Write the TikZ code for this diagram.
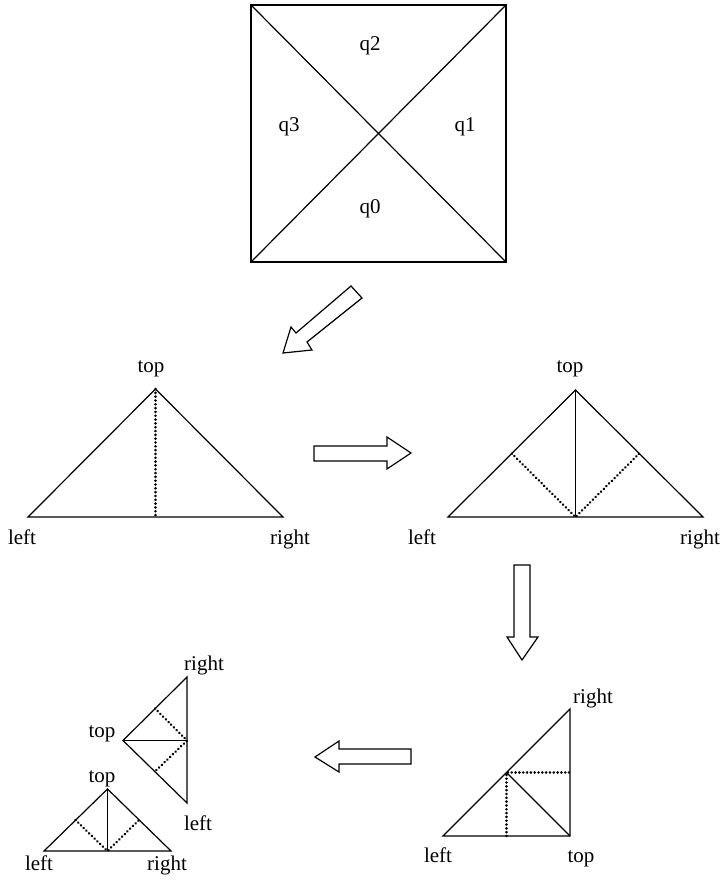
\documentclass[tikz,border=0pt]{standalone}
\usepackage{fontspec}
\setmainfont{Liberation Serif}
\usetikzlibrary{calc}
\begin{document}
\begin{tikzpicture}[x=0.5pt,y=-0.5pt,
  edge/.style={line width=0.6pt},
  dots/.style={line width=1.4pt,line cap=round,dash pattern=on 0.01pt off 1.9pt},
  blockarrow/.style={draw,line width=0.6pt,fill=white,line join=miter},
  lbl/.style={anchor=base,inner sep=0pt,font=\fontsize{10.5}{12}\selectfont}]
\useasboundingbox (0,0) rectangle (725,885);
% square
\coordinate (sa) at (251,5); \coordinate (sb) at (506,5);
\coordinate (sc) at (506,262); \coordinate (sd) at (251,262);
\draw[edge] (sa) -- (sb) -- (sc) -- (sd) -- cycle;
\draw[edge] (sa) -- (sc);
\draw[edge] (sb) -- (sd);
\node[lbl] (q2) at (370,50) {q2};
\node[lbl] (q3) at (289,131) {q3};
\node[lbl] (q1) at (465,131) {q1};
\node[lbl] (q0) at (370,213) {q0};
% arrows
\draw[blockarrow] (351,286) -- (362,298) -- (307,342) -- (312,350) -- (283,353) -- (291,327) -- (296,333) -- cycle;
\draw[blockarrow] (314,446) -- (387,446) -- (387,437) -- (411,453) -- (387,469) -- (387,461) -- (314,461) -- cycle;
\draw[blockarrow] (514,565) -- (530,565) -- (530,637) -- (538,637) -- (522,660) -- (507,637) -- (514,637) -- cycle;
\draw[blockarrow] (411,749) -- (339,749) -- (339,741) -- (315,757) -- (339,772) -- (339,764) -- (411,764) -- cycle;
% triangle 1
\coordinate (aL) at (28,517); \coordinate (aR) at (283,517); \coordinate (aT) at (155.5,389);
\coordinate (aM) at (155.5,517);
\draw[edge] (aL) -- (aR) -- (aT) -- cycle;
\draw[dots] (aT) -- (aM);
\node[lbl] (aTl) at (151,372) {top};
\node[lbl] (aLl) at (22,544) {left};
\node[lbl] (aRl) at (290,544) {right};
% triangle 2
\coordinate (bL) at (448,517); \coordinate (bR) at (703,517); \coordinate (bT) at (575.5,390);
\coordinate (bM) at (575.5,517);
\draw[edge] (bL) -- (bR) -- (bT) -- cycle;
\draw[edge] (bT) -- (bM);
\draw[dots] ($(bL)!0.5!(bT)$) -- (bM) -- ($(bR)!0.5!(bT)$);
\node[lbl] (bTl) at (570,372) {top};
\node[lbl] (bLl) at (422,544) {left};
\node[lbl] (bRl) at (700,544) {right};
% triangle 3
\coordinate (cL) at (443,836); \coordinate (cT) at (570,836); \coordinate (cR) at (570,709);
\coordinate (cM) at (506.5,772.5);
\draw[edge] (cL) -- (cT) -- (cR) -- cycle;
\draw[edge] (cM) -- (cT);
\draw[dots] (506.5,836) -- (cM) -- (570,772.5);
\node[lbl] (cRl) at (593,703) {right};
\node[lbl] (cLl) at (438,862) {left};
\node[lbl] (cTl) at (581,862) {top};
% small triangle upper
\coordinate (dT) at (123,740.5); \coordinate (dR) at (187,677); \coordinate (dL) at (187,803);
\coordinate (dM) at (187,740.5);
\draw[edge] (dT) -- (dR) -- (dL) -- cycle;
\draw[edge] (dT) -- (dM);
\draw[dots] (155,708.5) -- (dM) -- (155,771.5);
\node[lbl] (dRl) at (204,670) {right};
\node[lbl] (dTl) at (102,737) {top};
\node[lbl] (dLl) at (198,830) {left};
% small triangle lower
\coordinate (eT) at (107.5,789); \coordinate (eL) at (44,851); \coordinate (eR) at (171,851);
\coordinate (eM) at (107.5,851);
\draw[edge] (eL) -- (eR) -- (eT) -- cycle;
\draw[edge] (eT) -- (eM);
\draw[dots] (75.5,820) -- (eM) -- (139,820);
\node[lbl] (eTl) at (102,782) {top};
\node[lbl] (eLl) at (39,870) {left};
\node[lbl] (eRl) at (167,870) {right};
\end{tikzpicture}
\end{document}
